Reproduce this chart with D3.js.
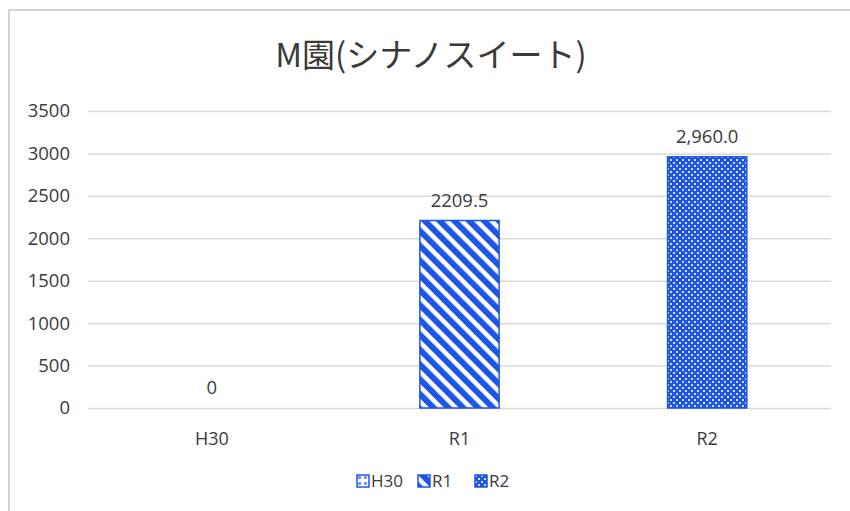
<!DOCTYPE html>
<html>
<head>
<meta charset="utf-8">
<script src="https://cdn.jsdelivr.net/npm/d3@7"></script>
<style>
  body { margin: 0; background: #fff; }
  svg { display: block; }
  text { font-family: "Open Sans", "Noto Sans", sans-serif; fill: #3a3a3a; }
</style>
</head>
<body>
<svg width="850" height="511"></svg>
<script>
// chart data
var categories = ["H30", "R1", "R2"];
var values = [0, 2209.5, 2960.0];
var valueLabels = ["0", "2209.5", "2,960.0"];
var yTicks = [0, 500, 1000, 1500, 2000, 2500, 3000, 3500];
var title = "M園(シナノスイート)";

var svg = d3.select("svg"),
    margin = {top: 111, right: 19, bottom: 103, left: 88},
    width = +svg.attr("width") - margin.left - margin.right,
    height = +svg.attr("height") - margin.top - margin.bottom;

var blue = "#1d56e6";

// fill patterns, one per series
var defs = svg.append("defs");

var pDots = defs.append("pattern")
    .attr("id", "pat-H30")
    .attr("patternUnits", "userSpaceOnUse")
    .attr("width", 6).attr("height", 6);
pDots.append("rect").attr("width", 6).attr("height", 6).attr("fill", "#fff");
pDots.append("rect").attr("x", 1).attr("y", 1).attr("width", 3).attr("height", 3).attr("fill", blue).attr("opacity", 0.6);

var pStripe = defs.append("pattern")
    .attr("id", "pat-R1")
    .attr("patternUnits", "userSpaceOnUse")
    .attr("width", 10.5).attr("height", 10.5)
    .attr("patternTransform", "rotate(-45)");
pStripe.append("rect").attr("width", 10.5).attr("height", 10.5).attr("fill", "#fff");
pStripe.append("rect").attr("x", 0).attr("width", 6).attr("height", 10.5).attr("fill", blue);

var pGrid = defs.append("pattern")
    .attr("id", "pat-R2")
    .attr("patternUnits", "userSpaceOnUse")
    .attr("width", 6).attr("height", 6);
pGrid.append("rect").attr("width", 6).attr("height", 6).attr("fill", blue);
pGrid.append("rect").attr("x", 0).attr("y", 0).attr("width", 2).attr("height", 2).attr("fill", "#fff").attr("opacity", 0.8);
pGrid.append("rect").attr("x", 3).attr("y", 3).attr("width", 2).attr("height", 2).attr("fill", "#fff").attr("opacity", 0.8);

// chart frame (only top and left edges are in view)
svg.append("path")
    .attr("d", "M9,511 V10 H850")
    .attr("fill", "none")
    .attr("stroke", "#d4d4d4")
    .attr("stroke-width", 2);

var x = d3.scaleBand()
    .domain(categories)
    .range([0, width])
    .padding(0);

var y = d3.scaleLinear()
    .domain([0, 3500])
    .range([height, 0]);

var barW = x.bandwidth() * 0.32;

var chart = svg.append("g")
    .attr("transform", "translate(" + margin.left + "," + margin.top + ")");

// grid lines
chart.append("g")
    .selectAll("line")
    .data(yTicks)
    .enter()
    .append("line")
    .attr("x1", 0)
    .attr("x2", width)
    .attr("y1", function(d) { return y(d) + 0.5; })
    .attr("y2", function(d) { return y(d) + 0.5; })
    .attr("stroke", "#d9d9d9")
    .attr("stroke-width", 1.5);

// y axis labels
var yAxis = chart.append("g")
    .call(d3.axisLeft(y).tickValues(yTicks).tickSize(0).tickPadding(18).tickFormat(d3.format("d")));
yAxis.select(".domain").remove();
yAxis.selectAll("text")
    .style("font-size", "18.5px")
    .style("fill", "#3a3a3a")
    .style("font-family", "Open Sans, sans-serif");

// x axis labels
var xAxis = chart.append("g")
    .attr("transform", "translate(0," + height + ")")
    .call(d3.axisBottom(x).tickSize(0).tickPadding(24));
xAxis.select(".domain").remove();
xAxis.selectAll("text")
    .style("font-size", "18px")
    .style("fill", "#3a3a3a")
    .style("font-family", "Open Sans, sans-serif");

// bars
chart.selectAll(".bar")
    .data(categories)
    .enter()
    .append("rect")
    .attr("class", "bar")
    .attr("x", function(d) { return x(d) + (x.bandwidth() - barW) / 2; })
    .attr("y", function(d, i) { return y(values[i]); })
    .attr("width", barW)
    .attr("height", function(d, i) { return height - y(values[i]); })
    .attr("fill", function(d) { return "url(#pat-" + d + ")"; })
    .attr("stroke", function(d, i) { return values[i] > 0 ? blue : "none"; })
    .attr("stroke-width", 1.5);

// value labels
chart.selectAll(".val")
    .data(categories)
    .enter()
    .append("text")
    .attr("class", "val")
    .attr("x", function(d) { return x(d) + x.bandwidth() / 2; })
    .attr("y", function(d, i) { return y(values[i]) - 14; })
    .attr("text-anchor", "middle")
    .style("font-size", "18.5px")
    .text(function(d, i) { return valueLabels[i]; });

// title
svg.append("text")
    .attr("x", 431)
    .attr("y", 67)
    .attr("text-anchor", "middle")
    .style("font-family", "Noto Sans CJK JP, sans-serif")
    .style("font-size", "33px")
    .text(title);

// legend
var legendX = [357, 418, 475];
var legend = svg.selectAll(".legend")
    .data(categories)
    .enter()
    .append("g")
    .attr("class", "legend")
    .attr("transform", function(d, i) { return "translate(" + legendX[i] + ",475)"; });

legend.append("rect")
    .attr("width", 12)
    .attr("height", 12)
    .attr("fill", function(d) { return "url(#pat-" + d + ")"; })
    .attr("stroke", blue)
    .attr("stroke-width", 1.5);

legend.append("text")
    .attr("x", 14)
    .attr("y", 12)
    .style("font-size", "17px")
    .text(function(d) { return d; });
</script>
</body>
</html>
